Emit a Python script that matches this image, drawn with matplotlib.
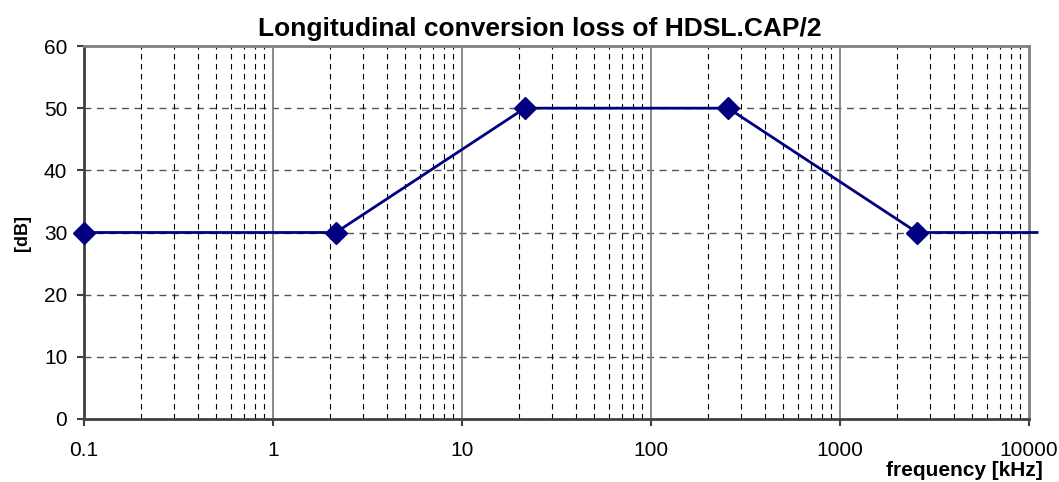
import matplotlib
matplotlib.use("Agg")
import matplotlib.pyplot as plt
from matplotlib.ticker import LogLocator, NullFormatter

# data
freq_khz = [0.1, 2.15, 21.5, 256, 2560, 11040]
loss_db = [30, 30, 50, 50, 30, 30]
n_markers = 5  # last point sits outside the axis range, no marker shown

x_ticks = [0.1, 1, 10, 100, 1000, 10000]
x_labels = ["0.1", "1", "10", "100", "1000", "10000"]
y_ticks = [0, 10, 20, 30, 40, 50, 60]

plt.rcParams['font.family'] = ['Liberation Sans', 'DejaVu Sans']

fig = plt.figure(figsize=(10.59, 4.82), dpi=100)
ax = fig.add_axes([84/1059, 63/482, 945/1059, 373/482])

ax.set_xscale("log")
ax.set_xlim(0.1, 10000)
ax.set_ylim(0, 60)

# grid
ax.set_xticks(x_ticks)
ax.set_xticklabels(x_labels)
ax.xaxis.set_minor_locator(LogLocator(base=10, subs=range(2, 10), numticks=20))
ax.xaxis.set_minor_formatter(NullFormatter())
ax.set_yticks(y_ticks)
for v in y_ticks[1:-1]:
    ax.axhline(v, color="#555555", lw=1, ls=(0, (5, 4)), zorder=1)
for v in x_ticks[1:-1]:
    ax.axvline(v, color="#808080", lw=1.3, zorder=1)
ax.grid(True, which="minor", axis="x", color="black", lw=0.8, ls=(0, (5, 4)), zorder=1)

ax.plot(freq_khz, loss_db, color="#000080", lw=2, clip_on=False, zorder=3)
ax.plot(freq_khz[:n_markers], loss_db[:n_markers], ls="none", marker="D",
        ms=11, color="#000080", clip_on=False, zorder=4)

for s in ["top", "right"]:
    ax.spines[s].set_color("#808080")
    ax.spines[s].set_linewidth(2)
ax.spines["left"].set_color("#404040")
ax.spines["left"].set_linewidth(2)
ax.spines["bottom"].set_color("#404040")
ax.spines["bottom"].set_linewidth(2)

ax.tick_params(axis="both", which="major", direction="out", length=5, width=1.5,
               color="#404040", labelsize=15)
ax.tick_params(axis="x", which="minor", length=0)
ax.tick_params(axis="x", pad=11)
ax.tick_params(axis="y", pad=7)

fig.text(540/1059, 1 - 29/482, "Longitudinal conversion loss of HDSL.CAP/2",
         ha="center", va="center", fontsize=19, fontweight="bold")
fig.text(1043/1059, 1 - 471/482, "frequency [kHz]", ha="right", va="center",
         fontsize=15, fontweight="bold")
fig.text(22/1059, 1 - 233/482, "[dB]", ha="center", va="center", rotation=90,
         fontsize=13, fontweight="bold")

fig.savefig("out.png", dpi=100)
